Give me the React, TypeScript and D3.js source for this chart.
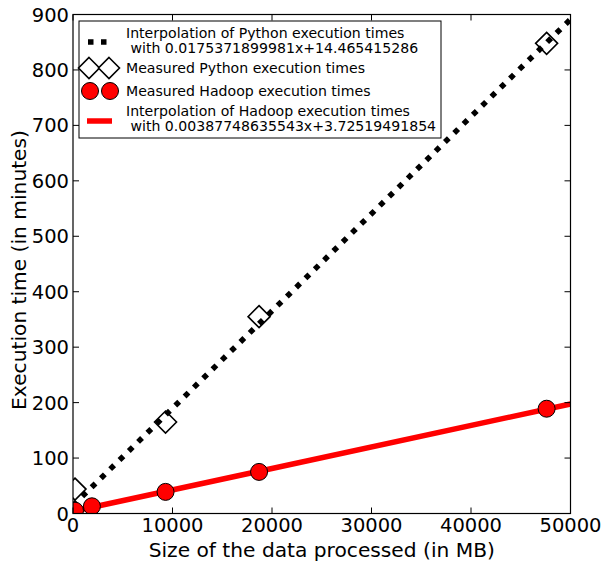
import React from "react";
import * as d3 from "d3";

// Data sizes (MB) and measured execution times (minutes)
const pythonSizesMB = [200, 9300, 18700, 47600];
const pythonMinutes = [44, 165, 355, 848];
const hadoopSizesMB = [200, 1900, 9300, 18700, 47600];
const hadoopMinutes = [5, 13, 39, 75, 189];

// Fitted linear models
const pythonFit = { slope: 0.0175371899981, intercept: 14.465415286 };
const hadoopFit = { slope: 0.00387748635543, intercept: 3.72519491854 };

const xTicks = [0, 10000, 20000, 30000, 40000, 50000];
const yTicks = [0, 100, 200, 300, 400, 500, 600, 700, 800, 900];

const legendLabels = [
  ["Interpolation of Python execution times", " with 0.0175371899981x+14.465415286"],
  ["Measured Python execution times"],
  ["Measured Hadoop execution times"],
  ["Interpolation of Hadoop execution times", " with 0.00387748635543x+3.72519491854"],
];

const W = 605;
const H = 564;
const M = { left: 73, right: 570.5, top: 14.5, bottom: 513.5 };
const FONT = "'DejaVu Sans', sans-serif";

export default function App() {
  const x = d3.scaleLinear().domain([0, 50000]).range([M.left, M.right]);
  const y = d3.scaleLinear().domain([0, 900]).range([M.bottom, M.top]);

  const fitLine = (f: { slope: number; intercept: number }) =>
    d3
      .line<number>()
      .x((d) => x(d))
      .y((d) => y(f.slope * d + f.intercept))([0, 50000]) || "";

  const diamond = (cx: number, cy: number, r: number) =>
    `M${cx},${cy - r}L${cx + r},${cy}L${cx},${cy + r}L${cx - r},${cy}Z`;

  const tickLen = 6;

  const lgX = 79;
  const lgY = 21;
  const lgW = 362;
  const lgH = 117;
  const textX = 126;

  return (
    <svg width={W} height={H} style={{ position: "absolute", left: 0, top: 0 }} fontFamily={FONT}>
      <defs>
        <clipPath id="plotArea">
          <rect x={M.left} y={M.top} width={M.right - M.left} height={M.bottom - M.top} />
        </clipPath>
      </defs>
      <rect width={W} height={H} fill="white" />

      <g clipPath="url(#plotArea)">
        {pythonSizesMB.map((s, i) => (
          <path
            key={"d" + i}
            d={diamond(x(s), y(pythonMinutes[i]), 11)}
            fill="white"
            stroke="black"
            strokeWidth={1.6}
          />
        ))}
        <path
          d={fitLine(pythonFit)}
          fill="none"
          stroke="black"
          strokeWidth={5.5}
          strokeDasharray="5.5 7.5"
        />
        <path d={fitLine(hadoopFit)} fill="none" stroke="#ff0000" strokeWidth={5.5} />
        {hadoopSizesMB.map((s, i) => (
          <circle
            key={"c" + i}
            cx={x(s)}
            cy={y(hadoopMinutes[i])}
            r={8.5}
            fill="#ff0000"
            stroke="black"
            strokeWidth={1}
          />
        ))}
      </g>

      {/* frame */}
      <rect
        x={M.left}
        y={M.top}
        width={M.right - M.left}
        height={M.bottom - M.top}
        fill="none"
        stroke="black"
        strokeWidth={1.2}
      />

      {/* x ticks */}
      {xTicks.map((t) => (
        <g key={"x" + t}>
          <line x1={x(t)} x2={x(t)} y1={M.bottom} y2={M.bottom - tickLen} stroke="black" />
          <line x1={x(t)} x2={x(t)} y1={M.top} y2={M.top + tickLen} stroke="black" />
          <text x={x(t)} y={532} textAnchor="middle" fontSize={19.5}>
            {t}
          </text>
        </g>
      ))}
      {/* y ticks */}
      {yTicks.map((t) => (
        <g key={"y" + t}>
          <line x1={M.left} x2={M.left + tickLen} y1={y(t)} y2={y(t)} stroke="black" />
          <line x1={M.right} x2={M.right - tickLen} y1={y(t)} y2={y(t)} stroke="black" />
          <text x={69} y={y(t) + 7} textAnchor="end" fontSize={19.5}>
            {t}
          </text>
        </g>
      ))}

      <text x={(M.left + M.right) / 2} y={557} textAnchor="middle" fontSize={20.2}>
        Size of the data processed (in MB)
      </text>
      <text
        transform={`translate(26,${(M.top + M.bottom) / 2 + 6}) rotate(-90)`}
        textAnchor="middle"
        fontSize={20.2}
      >
        Execution time (in minutes)
      </text>

      {/* legend */}
      <rect x={lgX} y={lgY} width={lgW} height={lgH} fill="white" stroke="black" strokeWidth={1} />
      <line x1={88} x2={110} y1={42} y2={42} stroke="black" strokeWidth={5.5} strokeDasharray="5.5 7.5" />
      <path d={diamond(89, 68, 10.5)} fill="white" stroke="black" strokeWidth={1.6} />
      <path d={diamond(109, 68, 10.5)} fill="white" stroke="black" strokeWidth={1.6} />
      <circle cx={90} cy={91} r={8.5} fill="#ff0000" stroke="black" />
      <circle cx={110} cy={91} r={8.5} fill="#ff0000" stroke="black" />
      <line x1={87} x2={112} y1={121} y2={121} stroke="#ff0000" strokeWidth={5.5} />
      {legendLabels.map((lines, i) => {
        const centers = [40.5, 68, 91, 118.5];
        const c = centers[i];
        const lh = 15.5;
        const start = c - ((lines.length - 1) * lh) / 2;
        return (
          <text key={"l" + i} fontSize={14.1} style={{ whiteSpace: "pre" }}>
            {lines.map((ln, j) => (
              <tspan key={j} x={textX} y={start + j * lh + 5}>
                {ln}
              </tspan>
            ))}
          </text>
        );
      })}
    </svg>
  );
}
